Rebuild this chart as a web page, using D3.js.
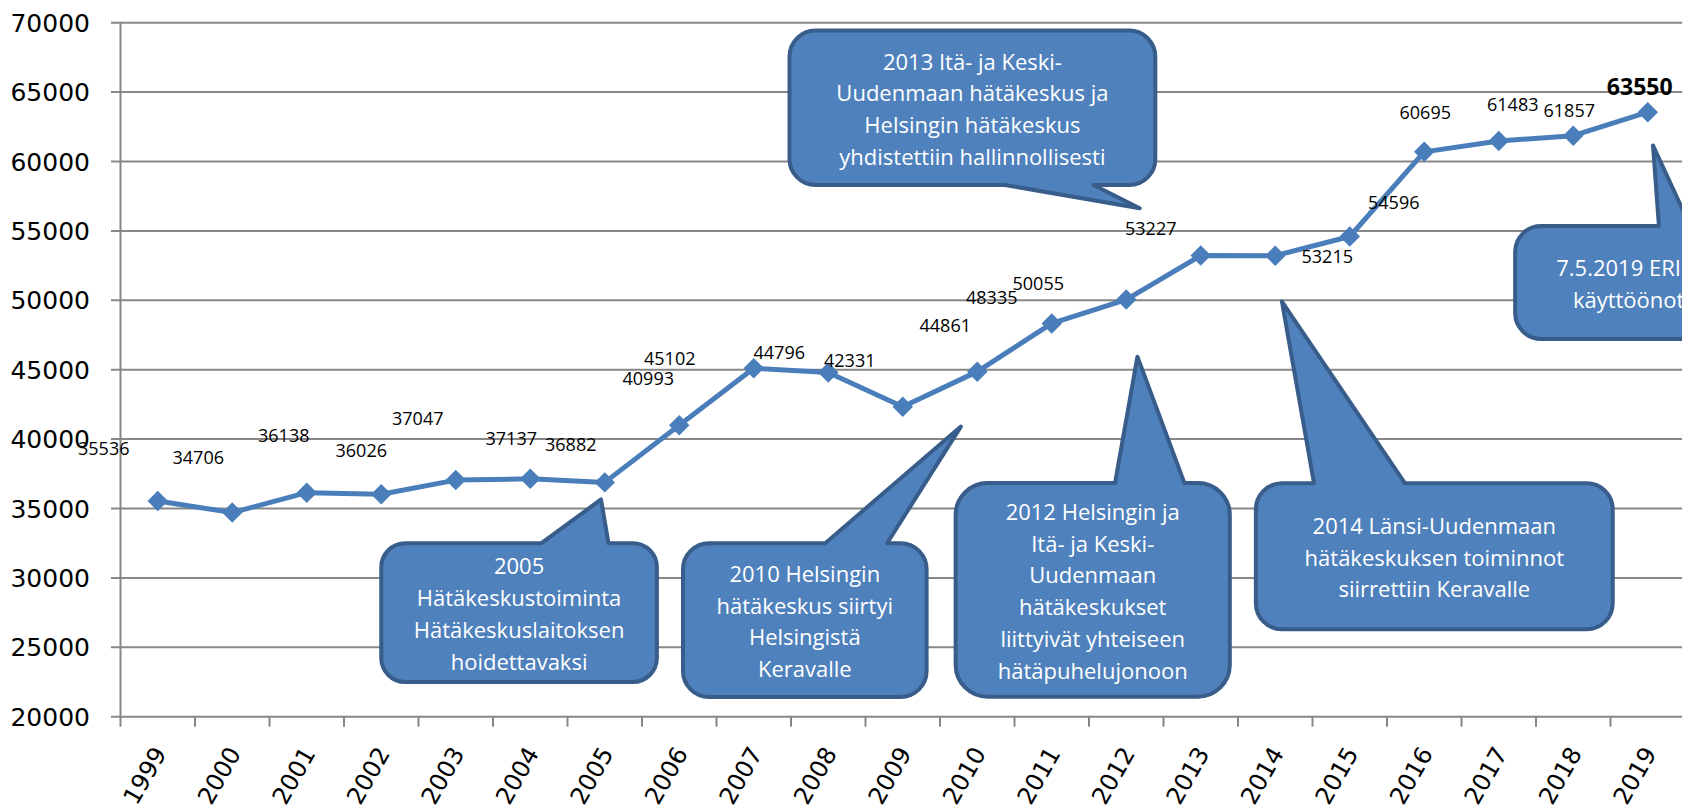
<!DOCTYPE html>
<html>
<head>
<meta charset="utf-8">
<script src="https://cdn.jsdelivr.net/npm/d3@7"></script>
<style>
  body { margin: 0; background: #fff; }
  svg { display: block; overflow: hidden; }
</style>
</head>
<body>
<svg id="chart" width="1682" height="808"></svg>
<script>
// hätäpuhelut vuosittain
const years = ['1999', '2000', '2001', '2002', '2003', '2004', '2005', '2006', '2007', '2008', '2009',
               '2010', '2011', '2012', '2013', '2014', '2015', '2016', '2017', '2018', '2019'];
const calls = [35536, 34706, 36138, 36026, 37047, 37137, 36882, 40993, 45102, 44796, 42331,
               44861, 48335, 50055, 53227, 53215, 54596, 60695, 61483, 61857, 63550];
const yTicks = [20000, 25000, 30000, 35000, 40000, 45000, 50000, 55000, 60000, 65000, 70000];

const noteLines = [
    ['2005', 'Hätäkeskustoiminta', 'Hätäkeskuslaitoksen', 'hoidettavaksi'],
    ['2010 Helsingin', 'hätäkeskus siirtyi', 'Helsingistä', 'Keravalle'],
    ['2012 Helsingin ja', 'Itä- ja Keski-', 'Uudenmaan', 'hätäkeskukset', 'liittyivät yhteiseen', 'hätäpuhelujonoon'],
    ['2014 Länsi-Uudenmaan', 'hätäkeskuksen toiminnot', 'siirrettiin Keravalle'],
    ['2013 Itä- ja Keski-', 'Uudenmaan hätäkeskus ja', 'Helsingin hätäkeskus', 'yhdistettiin hallinnollisesti'],
    ['7.5.2019 ERICAn', 'käyttöönotto']
];

// data label offsets (px) from their point, Excel had them dragged around by hand
const labelShift = [
    [-54, -53], [-34, -55], [-23, -57], [-20, -44], [-38, -62], [-19, -40], [-34, -38],
    [-31, -47], [-84, -10], [-49, -20], [-53, -46], [-32, -46], [-60, -26], [-88, -16],
    [-50, -27], [52, 1], [44, -34], [1, -39], [14, -36], [-4, -25], [-8, -26]
];

// callout boxes in data units: [year0, value0, year1, value1]
const noteLayout = [
    {box: [2002.0, 32500, 2005.7, 22500], side: 'top', base: [2004.15, 2005.05], tip: [2004.95, 35650], r: 24},
    {box: [2006.05, 32500, 2009.32, 21420], side: 'top', base: [2007.96, 2008.79], tip: [2009.78, 40900], r: 26},
    {box: [2009.71, 36840, 2013.39, 21440], side: 'top', base: [2011.85, 2012.78], tip: [2012.15, 45940], r: 32},
    {box: [2013.74, 36820, 2018.53, 26300], side: 'top', base: [2014.52, 2015.74], tip: [2014.09, 49910], r: 26},
    {box: [2007.48, 69430, 2012.39, 58310], side: 'bottom', base: [2010.37, 2011.56], tip: [2012.18, 56630], r: 26},
    {box: [2017.22, 55355, 2020.55, 47215], side: 'top', base: [2019.15, 2019.57], tip: [2019.07, 61160], r: 26}
];

const svg = d3.select('#chart')
const gridColor = '#878787', lineColor = '#4A7EBB'

const x = d3.scaleBand().domain(years).range([120.5, 1685])
const bw = x.bandwidth()
const cx = d => x(d) + bw / 2
const y = d3.scaleLinear().domain([20000, 70000]).range([716.7, 22.7])
const yearX = d3.scaleLinear().domain([1999, 2019]).range([cx('1999'), cx('2019')])

// gridlines + y labels
let yAxis = svg.append('g')
yAxis.selectAll('line').data(yTicks).enter().append('line')
    .attr('x1', 111).attr('x2', 1690)
    .attr('y1', d => y(d)).attr('y2', d => y(d))
    .attr('stroke', gridColor).attr('stroke-width', 2)
yAxis.selectAll('text').data(yTicks).enter().append('text')
    .attr('x', 90).attr('y', d => y(d)).attr('dy', '0.36em')
    .attr('text-anchor', 'end')
    .style('font-family', 'DejaVu Sans').style('font-size', '25px')
    .text(d => d)
svg.append('line')
    .attr('x1', 120.5).attr('x2', 120.5).attr('y1', y(70000)).attr('y2', y(20000) + 10)
    .attr('stroke', gridColor).attr('stroke-width', 2)

// x ticks + labels
let xAxis = svg.append('g')
xAxis.selectAll('line').data(years.slice(1)).enter().append('line')
    .attr('x1', d => x(d)).attr('x2', d => x(d))
    .attr('y1', y(20000)).attr('y2', y(20000) + 10)
    .attr('stroke', gridColor).attr('stroke-width', 2)
xAxis.selectAll('text').data(years).enter().append('text')
    .attr('transform', d => 'translate(' + [cx(d) + 2, 749] + ') rotate(-60)')
    .attr('dy', '0.36em')
    .attr('text-anchor', 'end')
    .style('font-family', 'DejaVu Sans').style('font-size', '24px')
    .text(d => d)

// the series
let pts = years.map((yr, i) => ({yr: yr, v: calls[i], i: i}))
let lineGen = d3.line().x(p => cx(p.yr)).y(p => y(p.v))
svg.append('path').attr('d', lineGen(pts))
    .attr('fill', 'none').attr('stroke', lineColor).attr('stroke-width', 5)
    .attr('stroke-linejoin', 'round')
svg.append('g').selectAll('path').data(pts).enter().append('path')
    .attr('d', d3.symbol(d3.symbolSquare, 210)())
    .attr('transform', p => 'translate(' + [cx(p.yr), y(p.v)] + ') rotate(45)')
    .attr('fill', lineColor)

svg.append('g').selectAll('text').data(pts).enter().append('text')
    .attr('x', p => cx(p.yr) + labelShift[p.i][0])
    .attr('y', p => y(p.v) + labelShift[p.i][1])
    .attr('dy', '0.36em')
    .attr('text-anchor', 'middle')
    .style('font-family', 'Open Sans')
    .style('font-size', p => p.i === pts.length - 1 ? '23px' : '18px')
    .style('font-weight', p => p.i === pts.length - 1 ? 'bold' : 'normal')
    .text(p => p.v)

// callouts
function calloutPath(n) {
    let x0 = yearX(n.box[0]), y0 = y(n.box[1]), x1 = yearX(n.box[2]), y1 = y(n.box[3])
    let a = yearX(n.base[0]), b = yearX(n.base[1])
    let tx = yearX(n.tip[0]), ty = y(n.tip[1])
    let r = n.r
    let p = d3.path()
    p.moveTo(x0 + r, y0)
    if (n.side === 'top') {
        p.lineTo(a, y0); p.lineTo(tx, ty); p.lineTo(b, y0)
    }
    p.lineTo(x1 - r, y0)
    p.arcTo(x1, y0, x1, y0 + r, r)
    p.lineTo(x1, y1 - r)
    p.arcTo(x1, y1, x1 - r, y1, r)
    if (n.side === 'bottom') {
        p.lineTo(b, y1); p.lineTo(tx, ty); p.lineTo(a, y1)
    }
    p.lineTo(x0 + r, y1)
    p.arcTo(x0, y1, x0, y1 - r, r)
    p.lineTo(x0, y0 + r)
    p.arcTo(x0, y0, x0 + r, y0, r)
    p.closePath()
    return p.toString()
}

let notes = svg.append('g').selectAll('g').data(noteLayout).enter().append('g')
notes.append('path')
    .attr('d', calloutPath)
    .attr('fill', '#4F81BD').attr('stroke', '#385D8A').attr('stroke-width', 4)
    .attr('stroke-linejoin', 'round')
notes.each(function (n, k) {
    let lines = noteLines[k]
    let midX = (yearX(n.box[0]) + yearX(n.box[2])) / 2
    let midY = (y(n.box[1]) + y(n.box[3])) / 2 + 1.5
    let step = 31.7
    d3.select(this).selectAll('text').data(lines).enter().append('text')
        .attr('x', midX)
        .attr('y', (d, j) => midY + (j - (lines.length - 1) / 2) * step)
        .attr('dy', '0.36em')
        .attr('text-anchor', 'middle')
        .attr('fill', '#fff')
        .style('font-family', 'Open Sans').style('font-size', '22px')
        .text(d => d)
})
</script>
</body>
</html>
